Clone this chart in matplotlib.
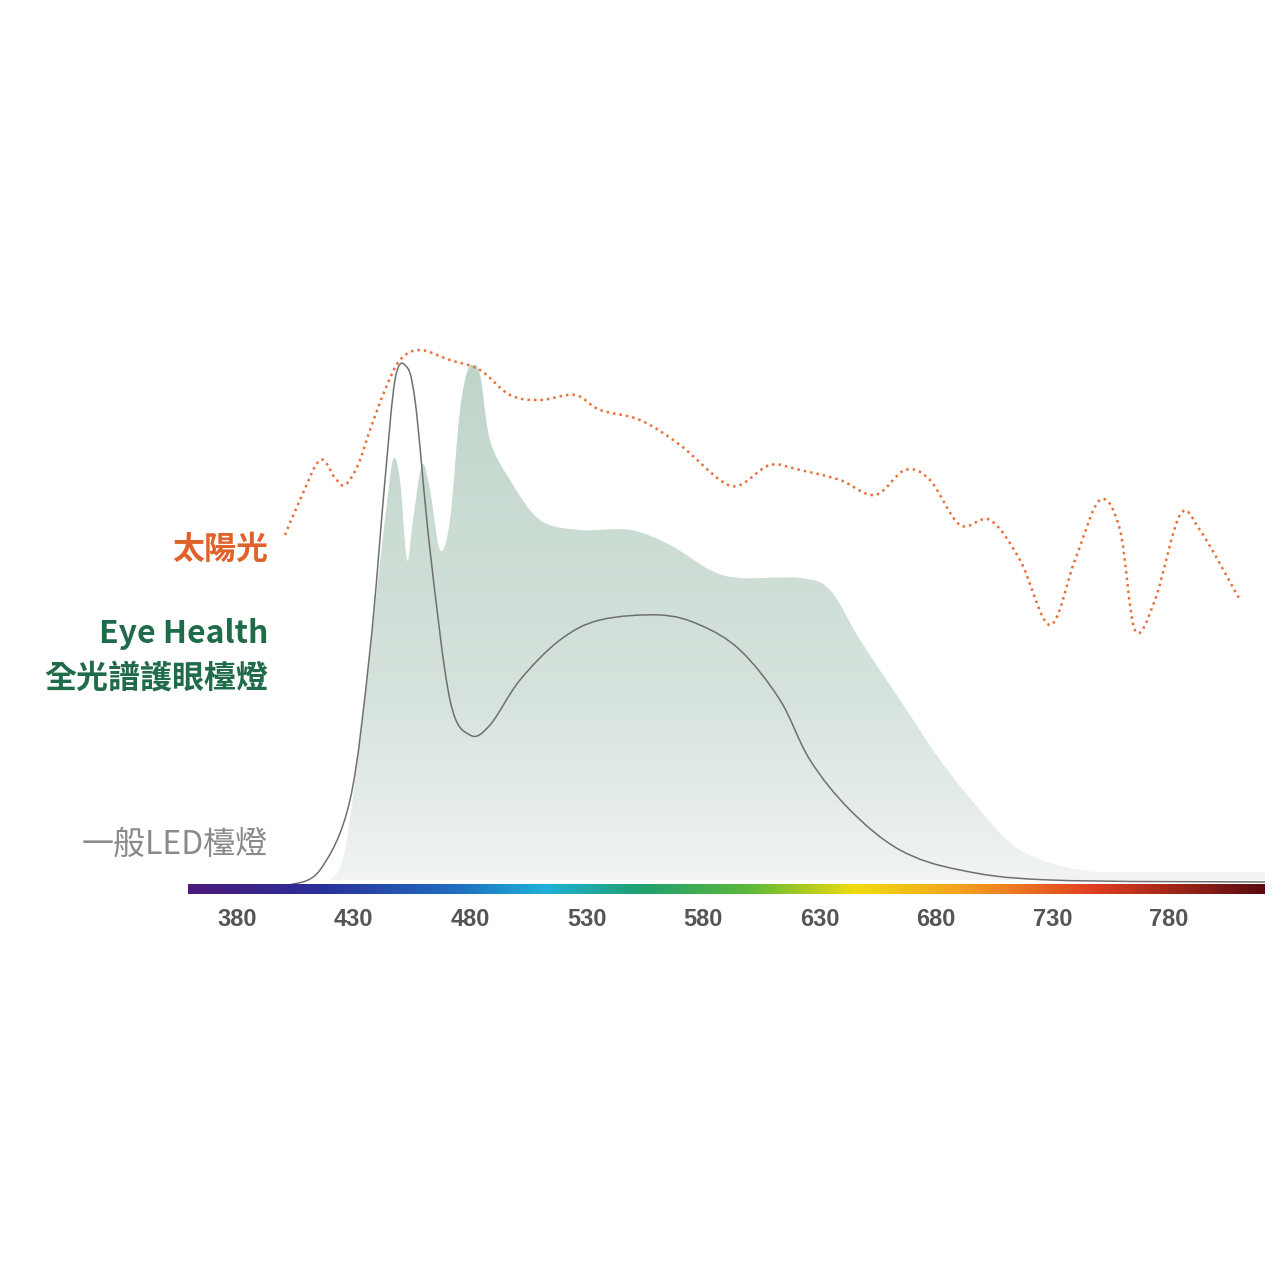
import numpy as np
import matplotlib
matplotlib.use("Agg")
from matplotlib import pyplot as plt
from matplotlib.colors import LinearSegmentedColormap
from matplotlib.patches import PathPatch
from matplotlib.path import Path

plt.rcParams['font.family'] = ['Noto Sans CJK TC', 'DejaVu Sans']

# pixel -> data helpers (reference picture geometry)
def nm(x):
    return 380 + (np.asarray(x, dtype=float) - 237) / 2.33

def val(y):
    return 880 - np.asarray(y, dtype=float)

# sunlight dotted curve (pixels)
sun_x = [285, 300, 320, 335, 345, 358, 370, 385, 400, 420, 450, 480, 510, 540, 575, 600, 640, 680, 720, 740, 770, 800, 840, 875, 905, 930, 960, 990, 1020, 1050, 1075, 1100, 1120, 1135, 1155, 1180, 1200, 1240]
sun_y = [535, 500, 460, 478, 485, 465, 430, 390, 360, 350, 360, 370, 395, 400, 395, 410, 420, 445, 480, 485, 465, 470, 480, 495, 470, 480, 525, 520, 560, 625, 560, 500, 530, 630, 600, 515, 530, 600]

# Eye Health fill
eye_x = [330, 345, 365, 378, 385, 393, 400, 407, 413, 422, 430, 440, 450, 460, 470, 480, 490, 510, 540, 580, 630, 670, 710, 740, 800, 830, 860, 900, 940, 980, 1020, 1080, 1150, 1265]
eye_y = [880, 850, 700, 580, 520, 460, 480, 560, 520, 465, 490, 550, 520, 410, 365, 375, 440, 480, 520, 530, 530, 545, 570, 578, 578, 590, 640, 700, 760, 810, 850, 870, 872, 872]

# common LED line
led_x = [290, 320, 350, 370, 385, 395, 405, 415, 430, 450, 470, 490, 520, 560, 600, 660, 700, 740, 780, 810, 850, 900, 960, 1050, 1265]
led_y = [885, 870, 800, 650, 480, 380, 365, 400, 550, 700, 735, 725, 680, 640, 620, 615, 625, 650, 700, 760, 810, 850, 870, 880, 882]

ticks = [380, 430, 480, 530, 580, 630, 680, 730, 780]


def smooth_path(xs, ys, close_to=None):
    # bezier path through the read points (Catmull-Rom handles)
    p = np.column_stack([xs, ys])
    verts = [p[0]]
    codes = [Path.MOVETO]
    n = len(p)
    for i in range(n - 1):
        p0 = p[max(i - 1, 0)]
        p1, p2 = p[i], p[i + 1]
        p3 = p[min(i + 2, n - 1)]
        verts += [p1 + (p2 - p0) / 6, p2 - (p3 - p1) / 6, p2]
        codes += [Path.CURVE4] * 3
    if close_to is not None:
        verts += [(p[-1][0], close_to), (p[0][0], close_to), p[0]]
        codes += [Path.LINETO, Path.LINETO, Path.CLOSEPOLY]
    return Path(verts, codes)


fig = plt.figure(figsize=(12.81, 12.78), dpi=100)
ax = fig.add_axes([0, 0, 1, 1])
ax.set_xlim(nm(0), nm(1281))
ax.set_ylim(val(1278), val(0))
ax.axis("off")

# gradient fill for Eye Health
ex, ey = nm(eye_x), val(eye_y)
patch = PathPatch(smooth_path(ex, ey, close_to=0), facecolor="none", edgecolor="none")
ax.add_patch(patch)
grad_cmap = LinearSegmentedColormap.from_list("g", [(0, "#f1f4f2"), (0.35, "#d6e3dc"), (1, "#c0d5ca")])
g = np.linspace(0, 1, 256).reshape(-1, 1)
im = ax.imshow(g, cmap=grad_cmap, aspect="auto", origin="lower",
               extent=[ex.min(), ex.max(), 0, ey.max()], zorder=1)
im.set_clip_path(patch)

ax.add_patch(PathPatch(smooth_path(nm(led_x), val(led_y)), facecolor="none",
                       edgecolor="#6f6f6f", lw=1.1, zorder=3))
ax.add_patch(PathPatch(smooth_path(nm(sun_x), val(sun_y)), facecolor="none",
                       edgecolor="#e8703a", lw=1.8, ls=(0, (1, 1.6)), zorder=3))

# spectrum bar
spec = LinearSegmentedColormap.from_list("spec", [
    (0.0, "#4b1a7a"), (0.12, "#2a2f9a"), (0.25, "#1f6fc0"), (0.33, "#1fb0d8"),
    (0.42, "#1fa070"), (0.52, "#5cb83a"), (0.62, "#f0dc10"), (0.72, "#f4a020"),
    (0.84, "#e04020"), (1.0, "#5a0a10")])
ax.imshow(np.linspace(0, 1, 512).reshape(1, -1), cmap=spec, aspect="auto",
          extent=[nm(188), nm(1265), val(894), val(884)], zorder=4)

for t in ticks:
    ax.text(t, val(920), str(t), ha="center", va="center", fontsize=17,
            fontweight="bold", color="#555555", family=["Liberation Sans", "DejaVu Sans"])

ax.text(nm(268), val(550), "太陽光", ha="right", va="center", fontsize=23,
        fontweight="bold", color="#e0622a")
ax.text(nm(268), val(634), "Eye Health", ha="right", va="center", fontsize=23,
        fontweight="bold", color="#1f6b4a")
ax.text(nm(268), val(679), "全光譜護眼檯燈", ha="right", va="center", fontsize=23,
        fontweight="bold", color="#1f6b4a")
ax.text(nm(268), val(845), "一般LED檯燈", ha="right", va="center", fontsize=23,
        color="#8a8a8a")

fig.savefig("out.png", dpi=100)
